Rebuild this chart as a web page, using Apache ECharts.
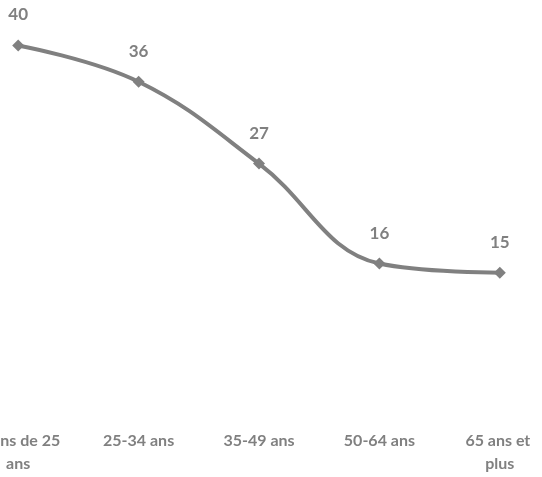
<!DOCTYPE html>
<html><head><meta charset="utf-8">
<script src="https://cdn.jsdelivr.net/npm/echarts@6/dist/echarts.min.js"></script>
<style>html,body{margin:0;padding:0;background:#fff;overflow:hidden;width:542px;height:477px}#c{width:602px;height:477px;margin-left:-42px}</style>
</head><body><div id="c"></div>
<script>
const categories = ["Moins de 25 ans", "25-34 ans", "35-49 ans", "50-64 ans", "65 ans et plus"];
const values = [40, 36, 27, 16, 15];
const chart = echarts.init(document.getElementById('c'), null, {renderer: 'canvas'});
chart.setOption({
  animation: false,
  grid: {left: 0, right: 0, top: -1.6, bottom: 68},
  xAxis: {
    type: 'category', data: categories, boundaryGap: true,
    axisLine: {show: false}, axisTick: {show: false},
    axisLabel: {color: '#808080', fontFamily: 'Lato', fontWeight: 'bold', fontSize: 16,
      margin: 20, width: 96, overflow: 'break', lineHeight: 23, interval: 0}
  },
  yAxis: {type: 'value', min: 0, max: 45, show: false, splitLine: {show: false}},
  series: [{
    type: 'line', data: values, smooth: 0.4,
    symbol: 'diamond', symbolSize: 12,
    lineStyle: {color: '#808080', width: 4},
    itemStyle: {color: '#808080'},
    label: {show: true, position: 'top', distance: 16, color: '#808080',
      fontFamily: 'Lato', fontWeight: 'bold', fontSize: 17}
  }]
});
</script></body></html>
